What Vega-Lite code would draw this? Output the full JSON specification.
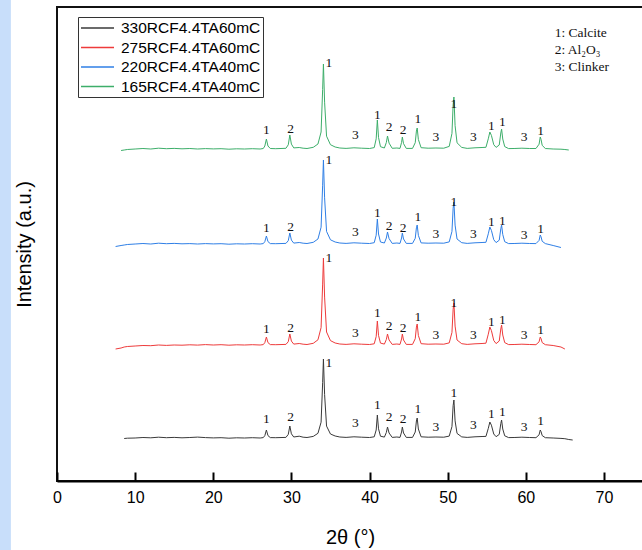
{
  "$schema": "https://vega.github.io/schema/vega-lite/v6.json",
  "width": 586,
  "height": 474,
  "autosize": {"type": "none"},
  "padding": {"left": 57, "top": 7, "right": 0, "bottom": 69},
  "background": "white",
  "config": {"view": {"stroke": "#111", "strokeWidth": 2}, "font": "Liberation Sans"},
  "datasets": {
    "strip": [{"x": -7.3, "x2": -5.9, "y": -70, "y2": 482}],
    "xrd": [
      {"x": 7.5, "r": 132, "b": 234.5},
      {"x": 8.2, "r": 133, "b": 235.5, "g": 330.5},
      {"x": 8.6, "k": 42.5, "r": 134, "b": 236, "g": 331},
      {"x": 9, "k": 42.8, "r": 134.5, "b": 236.5, "g": 331.5},
      {"x": 10, "k": 43, "r": 135, "b": 237, "g": 332},
      {"x": 11, "k": 43.5, "r": 135.5, "b": 237.5, "g": 332.5},
      {"x": 12, "k": 43.2, "r": 135.3, "b": 237, "g": 332},
      {"x": 13, "k": 43.8, "r": 136, "b": 237.8, "g": 332.8},
      {"x": 14, "k": 43.3, "r": 135.6, "b": 237.3, "g": 332.3},
      {"x": 15, "k": 43.6, "r": 136, "b": 237.6, "g": 332.6},
      {"x": 16, "k": 43.2, "r": 135.8, "b": 237.2, "g": 332.2},
      {"x": 17, "k": 43.5, "r": 136.2, "b": 237.4, "g": 332.5},
      {"x": 18, "k": 43.9, "r": 135.9, "b": 237, "g": 332},
      {"x": 19, "k": 43.4, "r": 136.4, "b": 237.4, "g": 332.4},
      {"x": 20, "k": 43.1, "r": 136, "b": 237.1, "g": 332.1},
      {"x": 21, "k": 43.3, "r": 136.3, "b": 237.3, "g": 332.3},
      {"x": 22, "k": 42.8, "r": 135.8, "b": 236.8, "g": 331.8},
      {"x": 23, "k": 43.2, "r": 136.2, "b": 237.2, "g": 332.2},
      {"x": 24, "k": 43, "r": 136, "b": 237, "g": 332},
      {"x": 25, "k": 43.3, "r": 136.3, "b": 237.3, "g": 332.3},
      {"x": 26, "k": 43, "r": 136, "b": 237, "g": 332},
      {"x": 26.4, "k": 43.4, "r": 136.4, "b": 237.4, "g": 332.5},
      {"x": 26.6, "k": 45.4, "r": 138.4, "b": 239.4, "g": 335},
      {"x": 26.8, "k": 51, "r": 144, "b": 245, "g": 342},
      {"x": 27, "k": 45.4, "r": 138.4, "b": 239.4, "g": 335},
      {"x": 27.3, "k": 43.4, "r": 136.4, "b": 237.4, "g": 332.5},
      {"x": 28, "k": 43.3, "r": 136.3, "b": 237.3, "g": 332.3},
      {"x": 29.3, "k": 43.6, "r": 136.6, "b": 237.6, "g": 332.7},
      {"x": 29.6, "k": 46.6, "r": 139.3, "b": 240.3, "g": 336.2},
      {"x": 29.8, "k": 55, "r": 147, "b": 248, "g": 346},
      {"x": 30, "k": 47.2, "r": 139.9, "b": 240.9, "g": 336.9},
      {"x": 30.3, "k": 44, "r": 136.9, "b": 237.9, "g": 333.1},
      {"x": 31, "k": 44.8, "r": 137.5, "b": 238.5, "g": 333.5},
      {"x": 31.5, "k": 43.8, "r": 136.8, "b": 237.8, "g": 332.8},
      {"x": 32, "k": 43.5, "r": 136.5, "b": 237.5, "g": 332.5},
      {"x": 32.8, "k": 44.6, "r": 137.7, "b": 238.7, "g": 333.7},
      {"x": 33.4, "k": 47.7, "r": 141.2, "b": 242, "g": 337},
      {"x": 33.8, "k": 58.8, "r": 153.4, "b": 253.8, "g": 349},
      {"x": 34, "k": 98.3, "r": 196.9, "b": 295.8, "g": 391.5},
      {"x": 34.1, "k": 122, "r": 223, "b": 321, "g": 417},
      {"x": 34.25, "k": 86.5, "r": 183.9, "b": 283.2, "g": 378.8},
      {"x": 34.5, "k": 54.9, "r": 149, "b": 249.6, "g": 344.8},
      {"x": 35, "k": 47, "r": 140.4, "b": 241.2, "g": 336.3},
      {"x": 35.6, "k": 45, "r": 138, "b": 239, "g": 334},
      {"x": 36.2, "k": 44, "r": 137, "b": 238, "g": 333},
      {"x": 37, "k": 43.6, "r": 136.6, "b": 237.6, "g": 332.6},
      {"x": 38, "k": 44.2, "r": 137.2, "b": 238.2, "g": 333.2},
      {"x": 39, "k": 43.8, "r": 136.8, "b": 237.8, "g": 332.8},
      {"x": 40, "k": 43.5, "r": 136.5, "b": 237.5, "g": 332.5},
      {"x": 40.6, "k": 44.2, "r": 137.2, "b": 238.3, "g": 333.4},
      {"x": 40.85, "k": 51, "r": 144.4, "b": 245.8, "g": 342.2},
      {"x": 41, "k": 66, "r": 160, "b": 262, "g": 361},
      {"x": 41.15, "k": 52.2, "r": 145.6, "b": 247, "g": 343.6},
      {"x": 41.4, "k": 44.8, "r": 137.9, "b": 239, "g": 334.3},
      {"x": 41.9, "k": 43.9, "r": 136.9, "b": 238, "g": 333},
      {"x": 42.15, "k": 48.5, "r": 141.5, "b": 243, "g": 338.5},
      {"x": 42.3, "k": 54, "r": 147, "b": 249, "g": 345},
      {"x": 42.5, "k": 48, "r": 141, "b": 242.4, "g": 337.9},
      {"x": 42.9, "k": 43.6, "r": 136.6, "b": 237.6, "g": 332.7},
      {"x": 43.5, "k": 44, "r": 137, "b": 238, "g": 333},
      {"x": 43.9, "k": 43.6, "r": 136.6, "b": 237.6, "g": 332.6},
      {"x": 44.1, "k": 49, "r": 142, "b": 243, "g": 338.6},
      {"x": 44.2, "k": 54, "r": 147, "b": 248, "g": 344},
      {"x": 44.35, "k": 48, "r": 141, "b": 242, "g": 337.4},
      {"x": 44.7, "k": 43.6, "r": 136.6, "b": 237.6, "g": 332.6},
      {"x": 45.5, "k": 43.6, "r": 136.6, "b": 237.6, "g": 332.6},
      {"x": 45.85, "k": 49, "r": 142.3, "b": 242.7, "g": 338.3},
      {"x": 46, "k": 60, "r": 153.9, "b": 253.2, "g": 349.9},
      {"x": 46.1, "k": 63, "r": 157, "b": 256, "g": 353},
      {"x": 46.25, "k": 52, "r": 145.5, "b": 245.6, "g": 341.5},
      {"x": 46.6, "k": 44.2, "r": 137.3, "b": 238.1, "g": 333.3},
      {"x": 47.5, "k": 43.8, "r": 136.8, "b": 237.8, "g": 332.8},
      {"x": 48.5, "k": 44, "r": 137, "b": 238, "g": 333},
      {"x": 49.5, "k": 43.8, "r": 136.8, "b": 237.8, "g": 332.8},
      {"x": 50.2, "k": 44.9, "r": 138.1, "b": 239.1, "g": 334.6},
      {"x": 50.55, "k": 54.4, "r": 148.6, "b": 249.6, "g": 347.6},
      {"x": 50.7, "k": 75.3, "r": 171.7, "b": 272.7, "g": 376.2},
      {"x": 50.8, "k": 81, "r": 178, "b": 279, "g": 384},
      {"x": 50.95, "k": 60.1, "r": 154.9, "b": 255.9, "g": 355.4},
      {"x": 51.2, "k": 47.6, "r": 141, "b": 242, "g": 338.2},
      {"x": 51.8, "k": 44.1, "r": 137.3, "b": 238.3, "g": 333.6},
      {"x": 52.5, "k": 43.6, "r": 136.6, "b": 237.6, "g": 332.6},
      {"x": 53.5, "k": 44.2, "r": 137.2, "b": 238.2, "g": 333.2},
      {"x": 54.4, "k": 44.5, "r": 137.5, "b": 238.5, "g": 333.5},
      {"x": 54.9, "k": 44.6, "r": 137.8, "b": 238.7, "g": 333.7},
      {"x": 55.2, "k": 52.6, "r": 146.8, "b": 247.2, "g": 342.2},
      {"x": 55.4, "k": 59, "r": 154, "b": 254, "g": 349},
      {"x": 55.6, "k": 55.8, "r": 150.4, "b": 250.6, "g": 345.6},
      {"x": 55.9, "k": 47, "r": 140.5, "b": 241.3, "g": 336.3},
      {"x": 56.2, "k": 44.3, "r": 137.4, "b": 238.4, "g": 333.6},
      {"x": 56.6, "k": 46.6, "r": 140, "b": 240.8, "g": 336},
      {"x": 56.8, "k": 57.4, "r": 152, "b": 252.2, "g": 348},
      {"x": 56.9, "k": 61, "r": 156, "b": 256, "g": 352},
      {"x": 57.05, "k": 52, "r": 146, "b": 246.5, "g": 342},
      {"x": 57.3, "k": 45.2, "r": 138.4, "b": 239.3, "g": 334.4},
      {"x": 57.8, "k": 43.4, "r": 136.4, "b": 237.4, "g": 332.4},
      {"x": 58.5, "k": 43.5, "r": 136.5, "b": 237.5, "g": 332.5},
      {"x": 59.5, "k": 43.8, "r": 136.8, "b": 237.8, "g": 332.8},
      {"x": 60.5, "k": 43.5, "r": 136.5, "b": 237.5, "g": 332.5},
      {"x": 61.3, "k": 43.3, "r": 136.3, "b": 237.4, "g": 332.5},
      {"x": 61.7, "k": 46.2, "r": 139.2, "b": 240.6, "g": 336.8},
      {"x": 61.85, "k": 51, "r": 144, "b": 246, "g": 344},
      {"x": 61.95, "k": 49.4, "r": 142.4, "b": 244.2, "g": 341.6},
      {"x": 62.1, "k": 45.4, "r": 138.4, "b": 239.7, "g": 335.6},
      {"x": 62.5, "k": 43.3, "r": 136.3, "b": 237.4, "g": 332.5},
      {"x": 63.5, "k": 43, "r": 135.5, "b": 235.5, "g": 332},
      {"x": 64.5, "k": 42.6, "r": 134, "b": 233.5, "g": 331.8},
      {"x": 65, "k": 42.3, "r": 132, "g": 331.5},
      {"x": 65.5, "k": 41.5, "g": 331},
      {"x": 66, "k": 41}
    ],
    "labels": [
      {"x": 26.8, "y": 62, "t": "1"}, {"x": 29.9, "y": 64, "t": "2"}, {"x": 34.8, "y": 118, "t": "1"},
      {"x": 38.2, "y": 58, "t": "3"}, {"x": 41.0, "y": 76, "t": "1"}, {"x": 42.5, "y": 64, "t": "2"},
      {"x": 44.3, "y": 62, "t": "2"}, {"x": 46.2, "y": 72, "t": "1"}, {"x": 48.5, "y": 54, "t": "3"},
      {"x": 50.8, "y": 88, "t": "1"}, {"x": 53.3, "y": 56, "t": "3"}, {"x": 55.6, "y": 67, "t": "1"},
      {"x": 57.0, "y": 69, "t": "1"}, {"x": 59.8, "y": 54, "t": "3"}, {"x": 61.9, "y": 60, "t": "1"},
      {"x": 26.8, "y": 152, "t": "1"}, {"x": 29.9, "y": 153, "t": "2"}, {"x": 34.8, "y": 223, "t": "1"},
      {"x": 38.2, "y": 148, "t": "3"}, {"x": 41.0, "y": 168, "t": "1"}, {"x": 42.5, "y": 155, "t": "2"},
      {"x": 44.3, "y": 153, "t": "2"}, {"x": 46.2, "y": 164, "t": "1"}, {"x": 48.5, "y": 146, "t": "3"},
      {"x": 50.8, "y": 178, "t": "1"}, {"x": 53.3, "y": 146, "t": "3"}, {"x": 55.6, "y": 159, "t": "1"},
      {"x": 57.0, "y": 161, "t": "1"}, {"x": 59.8, "y": 146, "t": "3"}, {"x": 61.9, "y": 151, "t": "1"},
      {"x": 26.8, "y": 253, "t": "1"}, {"x": 29.9, "y": 254, "t": "2"}, {"x": 34.8, "y": 321, "t": "1"},
      {"x": 38.2, "y": 249, "t": "3"}, {"x": 41.0, "y": 268, "t": "1"}, {"x": 42.5, "y": 255, "t": "2"},
      {"x": 44.3, "y": 253, "t": "2"}, {"x": 46.2, "y": 264, "t": "1"}, {"x": 48.5, "y": 247, "t": "3"},
      {"x": 50.8, "y": 279, "t": "1"}, {"x": 53.3, "y": 247, "t": "3"}, {"x": 55.6, "y": 259, "t": "1"},
      {"x": 57.0, "y": 260, "t": "1"}, {"x": 59.8, "y": 246, "t": "3"}, {"x": 61.9, "y": 252, "t": "1"},
      {"x": 26.8, "y": 351, "t": "1"}, {"x": 29.9, "y": 352, "t": "2"}, {"x": 34.8, "y": 418, "t": "1"},
      {"x": 38.2, "y": 346, "t": "3"}, {"x": 41.0, "y": 366, "t": "1"}, {"x": 42.5, "y": 354, "t": "2"},
      {"x": 44.3, "y": 351, "t": "2"}, {"x": 46.2, "y": 362, "t": "1"}, {"x": 48.5, "y": 344, "t": "3"},
      {"x": 50.8, "y": 377, "t": "1"}, {"x": 53.3, "y": 344, "t": "3"}, {"x": 55.6, "y": 355, "t": "1"},
      {"x": 57.0, "y": 359, "t": "1"}, {"x": 59.8, "y": 344, "t": "3"}, {"x": 61.9, "y": 350, "t": "1"}
    ],
    "key": [
      {"x": 63.7, "y": 448, "t": "1: Calcite"},
      {"x": 63.7, "y": 431, "t": "2: Al₂O₃"},
      {"x": 63.7, "y": 414, "t": "3: Clinker"}
    ]
  },
  "encoding": {
    "x": {
      "field": "x", "type": "quantitative",
      "scale": {"domain": [0, 75], "nice": false, "zero": false},
      "axis": {
        "values": [0, 10, 20, 30, 40, 50, 60, 70],
        "title": "2θ (°)", "titleFont": "Liberation Sans", "titleFontSize": 20, "titleFontWeight": "normal", "titleColor": "black", "titlePadding": 22,
        "labelFont": "Liberation Sans", "labelFontSize": 16, "labelColor": "black", "labelPadding": 17, "labelFlush": false,
        "tickSize": -9, "tickWidth": 2, "tickColor": "black", "domainColor": "black", "domainWidth": 2, "grid": false
      }
    },
    "y": {
      "field": "y", "type": "quantitative",
      "scale": {"domain": [0, 474], "nice": false, "zero": false},
      "axis": {
        "title": "Intensity (a.u.)", "titleFont": "Liberation Sans", "titleFontSize": 20, "titleFontWeight": "normal", "titleColor": "black", "titlePadding": 23,
        "ticks": false, "labels": false, "domain": false, "grid": false
      }
    }
  },
  "layer": [
    {
      "data": {"name": "strip"},
      "mark": {"type": "rect", "clip": false, "color": "#c8defa"},
      "encoding": {"x2": {"field": "x2"}, "y2": {"field": "y2"}}
    },
    {
      "data": {"name": "xrd"},
      "transform": [{"fold": ["k", "r", "b", "g"], "as": ["s", "y"]}],
      "mark": {"type": "line", "strokeWidth": 1},
      "encoding": {
        "color": {
          "field": "s", "type": "nominal",
          "scale": {"domain": ["k", "r", "b", "g"], "range": ["#3a3a3a", "#ee3b3b", "#2f7fe6", "#3dae6a"]},
          "legend": {
            "title": null, "orient": "none", "legendX": 21, "legendY": 10,
            "labelExpr": "{'k':'330RCF4.4TA60mC','r':'275RCF4.4TA60mC','b':'220RCF4.4TA40mC','g':'165RCF4.4TA40mC'}[datum.label]",
            "labelFont": "Liberation Sans", "labelFontSize": 15.5, "labelColor": "black", "labelOffset": 23,
            "symbolType": "M-1,0H3.125", "symbolSize": 256, "symbolStrokeWidth": 1.5,
            "strokeColor": "#333", "fillColor": "white", "padding": 2, "rowPadding": 1.5
          }
        }
      }
    },
    {
      "data": {"name": "labels"},
      "mark": {"type": "text", "font": "Liberation Serif", "fontSize": 13.5, "color": "#111", "align": "center", "baseline": "middle"},
      "encoding": {"text": {"field": "t"}}
    },
    {
      "data": {"name": "key"},
      "mark": {"type": "text", "font": "Liberation Serif", "fontSize": 13.5, "color": "#111", "align": "left", "baseline": "middle"},
      "encoding": {"text": {"field": "t"}}
    }
  ]
}
